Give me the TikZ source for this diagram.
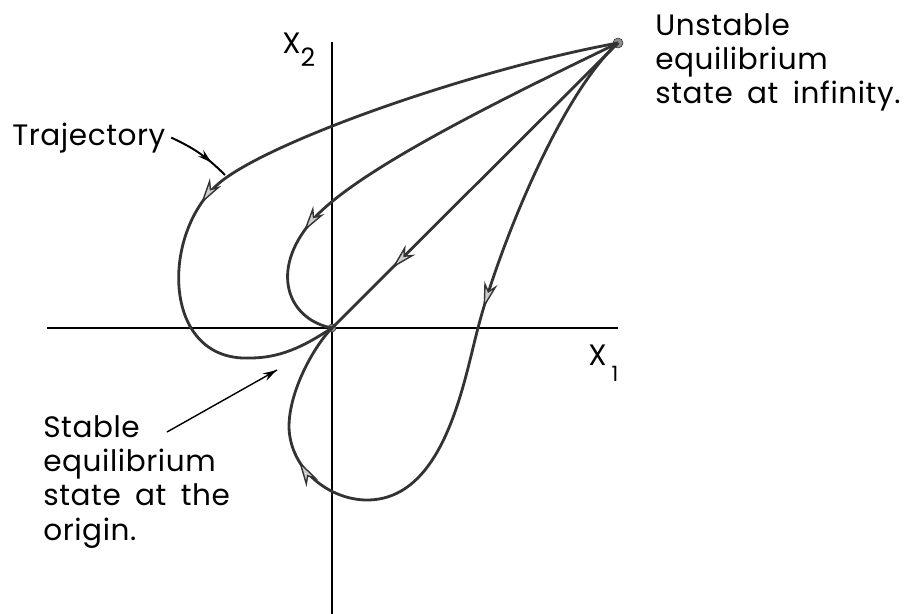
\documentclass[tikz,border=0pt]{standalone}
\usepackage{fontspec}
\setmainfont{Poppins}[LetterSpace=2, WordSpace=1.7]
\usetikzlibrary{arrows.meta,decorations.markings}

\begin{document}
\begin{tikzpicture}[
		x=0.25mm, y=-0.25mm,
		axis/.style={line width=1.3pt, black},
		traj/.style={line width=2pt, black!80},
		dot/.style={circle, draw=black!80, fill=black!45, inner sep=0pt, minimum size=#1},
		note/.style={font=\fontsize{21}{24.4}\selectfont, align=left, inner sep=0pt},
		leader/.style={line width=1pt, black},
		midarrow/.style={postaction={decorate, decoration={markings,
					mark=at position #1 with {\arrow[line width=1pt]{Stealth[length=6.5mm,width=3.4mm,inset=2mm,fill=black!20]}}}}},
		tiparrow/.style={postaction={decorate, decoration={markings,
					mark=at position #1 with {\arrow{Stealth[length=3.5mm,width=2mm]}}}}}
		]
		\useasboundingbox (0,0) rectangle (912,614);
		
		% Axes
		\coordinate (xl) at (47,328);
		\coordinate (xr) at (618,328);
		\coordinate (yt) at (332,42);
		\coordinate (yb) at (332,614);
		\draw[axis] (xl) -- (xr);
		\draw[axis] (yt) -- (yb);
		\node[note, anchor=base west] (xtwo) at (282,53) {X\raisebox{-0.45em}{\fontsize{18}{18}\selectfont 2}};
		\node[note, anchor=base west] (xone) at (588,365) {X\,\raisebox{-0.55em}{\fontsize{15}{15}\selectfont 1}};
		
		% Equilibrium states
		\node[dot=2.5mm] (U) at (618,43) {};
		\node[dot=2mm] (O) at (332,328) {};
		
		% Trajectories
		\draw[traj, midarrow=0.61] (U.center) .. controls (480,68) and (280,137) .. (223,180)
			.. controls (160,228) and (160,362) .. (250,358)
			.. controls (285,358) and (310,342) .. (O.center);
		\draw[traj, midarrow=0.75] (U.center) .. controls (500,100) and (342,177) .. (307,227)
			.. controls (270,275) and (290,320) .. (O.center);
		\draw[traj, midarrow=0.79] (U.center) -- (O.center);
		\draw[traj, midarrow=0.39, midarrow=0.81] (U.center) .. controls (560,95) and (498,250) .. (478,328)
			.. controls (464,380) and (445,500) .. (367,500)
			.. controls (330,500) and (290,470) .. (289,427)
			.. controls (289,390) and (315,345) .. (O.center);
		
		% Labels
		\node[note, anchor=base west] (trajlbl) at (12,145) {Trajectory};
		\node[note, anchor=north west] (unst) at (655,13) {Unstable\\equilibrium\\state at infinity.};
		\node[note, anchor=north west] (stab) at (43,415) {Stable\\equilibrium\\state at the\\origin.};
		
		\coordinate (tend) at (225,175);
		\coordinate (sbeg) at (167,432);
		\coordinate (send) at (277,370);
		\draw[leader, line width=1.4pt, tiparrow=0.72] ([xshift=4pt]trajlbl.east) to[bend left=10] (tend);
		\draw[leader, tiparrow=1] (sbeg) -- (send);
		
	\end{tikzpicture}
\end{document}
